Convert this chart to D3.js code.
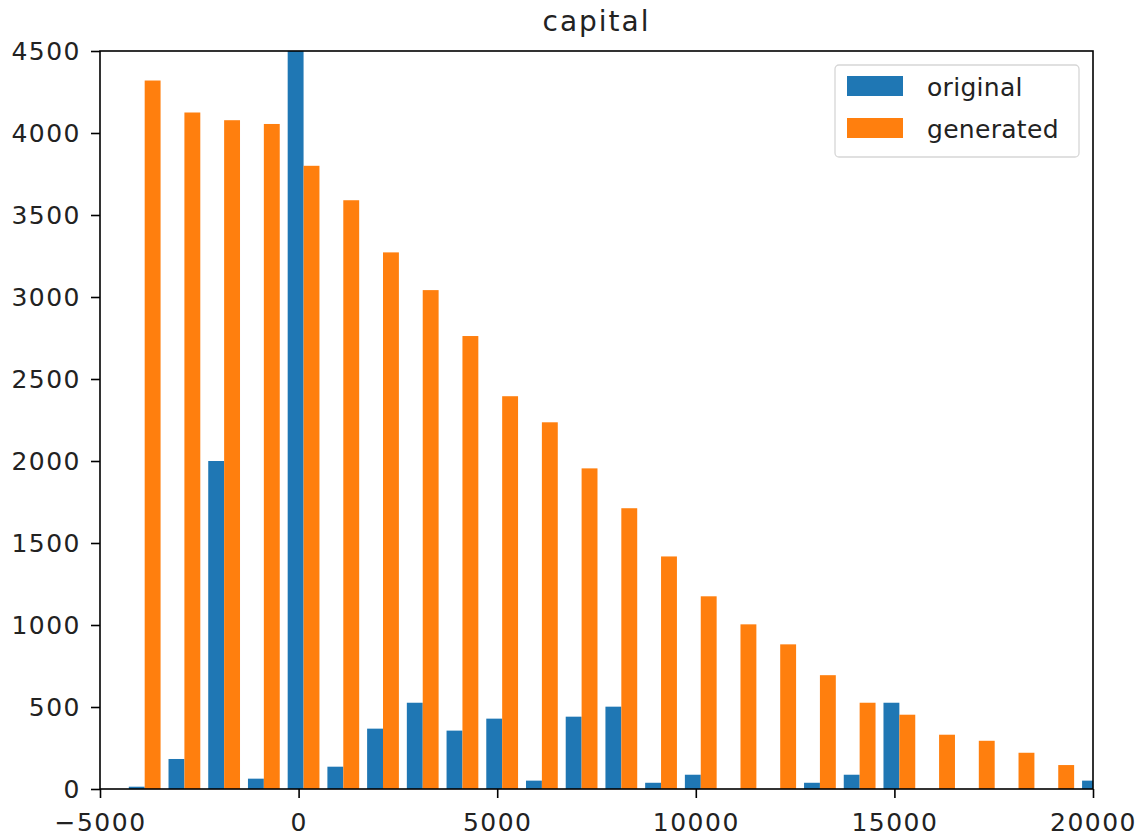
<!DOCTYPE html>
<html>
<head>
<meta charset="utf-8">
<script src="https://cdn.jsdelivr.net/npm/d3@7"></script>
<style>
  body { margin: 0; background: #fff; }
  svg { font-family: "DejaVu Sans", sans-serif; }
</style>
</head>
<body>
<svg id="chart" width="1142" height="840"></svg>
<script>
// histogram bins (left edge of each bin), width 1000
const binStarts = [-4375, -3375, -2375, -1375, -375, 625, 1625, 2625, 3625, 4625,
  5625, 6625, 7625, 8625, 9625, 10625, 11625, 12625, 13625, 14625,
  15625, 16625, 17625, 18625, 19625];
const binWidth = 1000;

const original = [14, 183, 2000, 63, 5200, 136, 368, 526, 356, 429,
  51, 441, 502, 38, 87, 0, 0, 38, 87, 526,
  0, 0, 0, 0, 51];
const generated = [4320, 4125, 4078, 4055, 3800, 3590, 3272, 3042, 2762, 2395,
  2236, 1955, 1712, 1418, 1175, 1004, 882, 694, 526, 453,
  331, 294, 221, 146, 0];

const seriesNames = ["original", "generated"];
const xTicks = [-5000, 0, 5000, 10000, 15000, 20000];
const yTicks = [0, 500, 1000, 1500, 2000, 2500, 3000, 3500, 4000, 4500];

const colors = ["#1f77b4", "#ff7f0e"];

const width = 1142, height = 840;
const margin = { top: 51, right: 49, bottom: 51, left: 100 };

const svg = d3.select("#chart");

const x = d3.scaleLinear()
  .domain([-5000, 20000])
  .range([margin.left, width - margin.right]);

const y = d3.scaleLinear()
  .domain([0, 4500])
  .range([height - margin.bottom, margin.top]);

// clip bars to the axes area
svg.append("clipPath").attr("id", "plot-clip")
  .append("rect")
  .attr("x", margin.left)
  .attr("y", margin.top)
  .attr("width", width - margin.left - margin.right)
  .attr("height", height - margin.top - margin.bottom);

const bars = svg.append("g").attr("clip-path", "url(#plot-clip)");

// matplotlib style side by side: each bar 0.4 of bin, group 0.8 of bin
[original, generated].forEach((vals, s) => {
  bars.append("g")
    .selectAll("rect")
    .data(binStarts.map((b, i) => [b, vals[i]]))
    .enter().append("rect")
    .attr("x", d => x(d[0] + binWidth * (0.1 + 0.4 * s)))
    .attr("width", d => x(d[0] + binWidth * (0.5 + 0.4 * s)) - x(d[0] + binWidth * (0.1 + 0.4 * s)))
    .attr("y", d => y(d[1]))
    .attr("height", d => y(0) - y(d[1]))
    .attr("fill", colors[s]);
});

// axes
const fmt = d => d < 0 ? "\u2212" + Math.abs(d) : String(d);

const xAxis = svg.append("g")
  .attr("transform", `translate(0,${height - margin.bottom})`)
  .call(d3.axisBottom(x).tickValues(xTicks).tickFormat(fmt).tickSize(9).tickPadding(15));

const yAxis = svg.append("g")
  .attr("transform", `translate(${margin.left},0)`)
  .call(d3.axisLeft(y).tickValues(yTicks).tickFormat(fmt).tickSize(9).tickPadding(10));

[xAxis, yAxis].forEach(ax => {
  ax.select(".domain").remove();
  ax.selectAll(".tick line").attr("stroke", "#000").attr("stroke-width", 1.6);
  ax.selectAll(".tick text")
    .attr("fill", "#222")
    .style("font-size", "25px")
    .style("letter-spacing", "1.5px")
    .style("font-family", "'DejaVu Sans', sans-serif");
});

// frame
svg.append("rect")
  .attr("x", margin.left)
  .attr("y", margin.top)
  .attr("width", width - margin.left - margin.right)
  .attr("height", height - margin.top - margin.bottom)
  .attr("fill", "none")
  .attr("stroke", "#000")
  .attr("stroke-width", 1.6);

// title
svg.append("text")
  .attr("x", (margin.left + width - margin.right) / 2)
  .attr("y", 31)
  .attr("text-anchor", "middle")
  .attr("fill", "#222")
  .style("font-size", "28px")
  .style("letter-spacing", "2px")
  .text("capital");

// legend
const legend = svg.append("g").attr("transform", "translate(835,65)");
legend.append("rect")
  .attr("width", 244)
  .attr("height", 92)
  .attr("rx", 4)
  .attr("fill", "#fff")
  .attr("fill-opacity", 0.8)
  .attr("stroke", "#d6d6d6")
  .attr("stroke-width", 1.3);

seriesNames.forEach((name, i) => {
  const row = legend.append("g").attr("transform", `translate(0,${11 + i * 42})`);
  row.append("rect")
    .attr("x", 12)
    .attr("width", 56)
    .attr("height", 20)
    .attr("fill", colors[i]);
  row.append("text")
    .attr("x", 92)
    .attr("y", 20)
    .attr("fill", "#222")
    .style("font-size", "25px")
    .style("letter-spacing", "0.3px")
    .text(name);
});
</script>
</body>
</html>
